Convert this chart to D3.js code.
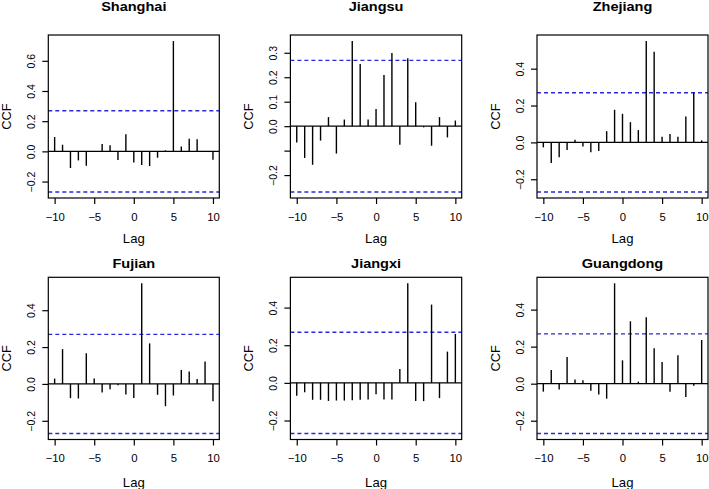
<!DOCTYPE html>
<html><head><meta charset="utf-8">
<script src="https://cdn.jsdelivr.net/npm/d3@7"></script>
<style>
body{margin:0;background:#fff}
text{font-family:"Liberation Sans",Arial,Helvetica,sans-serif;fill:#000}
</style>
</head><body><svg id="c" width="709" height="489"></svg>
<script>
// ---- data ----
const lags = [-10,-9,-8,-7,-6,-5,-4,-3,-2,-1,0,1,2,3,4,5,6,7,8,9,10];
const regions = ["Shanghai","Jiangsu","Zhejiang","Fujian","Jiangxi","Guangdong"];
const ccfShanghai  = [0.095,0.044,-0.110,-0.060,-0.095,0.003,0.049,0.040,-0.058,0.113,-0.073,-0.091,-0.097,-0.042,0.007,0.731,0.033,0.084,0.080,-0.004,-0.055];
const ccfJiangsu   = [-0.067,-0.130,-0.158,-0.059,0.037,-0.112,0.027,0.348,0.254,0.027,0.070,0.209,0.299,-0.076,0.278,0.098,-0.005,-0.080,0.037,-0.046,0.023];
const ccfZhejiang  = [-0.027,-0.112,-0.081,-0.041,0.014,-0.022,-0.054,-0.047,0.061,0.177,0.155,0.110,0.067,0.550,0.492,0.031,0.045,0.031,0.141,0.270,0.011];
const ccfFujian    = [0.029,0.189,-0.077,-0.079,0.166,0.029,-0.047,-0.029,-0.007,-0.058,-0.077,0.546,0.220,-0.059,-0.121,-0.063,0.076,0.068,0.027,0.121,-0.094];
const ccfJiangxi   = [-0.069,-0.050,-0.090,-0.090,-0.096,-0.094,-0.094,-0.092,-0.090,-0.088,-0.060,-0.088,-0.088,0.074,0.529,-0.096,-0.097,0.416,-0.081,0.166,0.260];
const ccfGuangdong = [-0.043,0.074,-0.032,0.144,0.023,0.018,-0.038,-0.059,-0.081,0.542,0.126,0.337,0.011,0.359,0.191,0.117,-0.043,0.153,-0.072,-0.011,0.236];
const ciBound = 0.269;
const xTicks = [-10,-5,0,5,10];
const yTicksShanghai = [-0.2,0,0.2,0.4,0.6];
const yTicksJiangsu = [-0.2,-0.1,0,0.1,0.2,0.3];
const yTicksOther = [-0.2,0,0.2,0.4];
const hiddenLabelsJiangsu = [-0.1];

const series = [ccfShanghai, ccfJiangsu, ccfZhejiang, ccfFujian, ccfJiangxi, ccfGuangdong];
const yTickSets = [yTicksShanghai, yTicksJiangsu, yTicksOther, yTicksOther, yTicksOther, yTicksOther];
const hiddenSets = [[], hiddenLabelsJiangsu, [], [], [], []];

// ---- layout ----
const colBox = [[48.3,219.3],[290.4,461.7],[537,708]];
const rowBox = [[35,198],[277.3,439.5]];
const titleY = [11, 267.5];
const lagY = [243, 486.5];

const svg = d3.select("#c");
svg.append("rect").attr("width",709).attr("height",489).attr("fill","#fff");

const fmtY = v => (v === 0 ? "0.0" : d3.format(".1f")(v));
const fmtX = d3.format("d");

series.forEach((vals, i) => {
  const col = i % 3, row = Math.floor(i / 3);
  const [x0, x1] = colBox[col];
  const [y0, y1] = rowBox[row];
  const lo = Math.min(-ciBound, d3.min(vals)), hi = Math.max(ciBound, d3.max(vals));
  const pad = (hi - lo) * 0.04;
  const x = d3.scaleLinear().domain([-10.8, 10.8]).range([x0, x1]);
  const y = d3.scaleLinear().domain([lo - pad, hi + pad]).range([y1, y0]);
  const g = svg.append("g");

  // zero line
  g.append("line").attr("x1", x0).attr("x2", x1).attr("y1", y(0)).attr("y2", y(0))
    .attr("stroke", "#000").attr("stroke-width", 1.2);

  // confidence bounds
  [ciBound, -ciBound].forEach(c => {
    g.append("line").attr("x1", x0).attr("x2", x1).attr("y1", y(c)).attr("y2", y(c))
      .attr("stroke", "#2a2ad8").attr("stroke-width", 1.4).attr("stroke-dasharray", "4,3");
  });

  // spikes
  g.selectAll("line.spike").data(lags).join("line").attr("class","spike")
    .attr("x1", d => x(d)).attr("x2", d => x(d))
    .attr("y1", y(0)).attr("y2", (d, k) => y(vals[k]))
    .attr("stroke", "#000").attr("stroke-width", 1.4);

  // box
  g.append("rect").attr("x", x0).attr("y", y0).attr("width", x1 - x0).attr("height", y1 - y0)
    .attr("fill", "none").attr("stroke", "#000").attr("stroke-width", 1.2);

  // x axis
  const gx = g.append("g").attr("transform", `translate(0,${y1})`)
    .call(d3.axisBottom(x).tickValues(xTicks).tickSize(6).tickFormat(fmtX));
  gx.select(".domain").remove();
  gx.selectAll(".tick line").attr("stroke", "#000").attr("stroke-width", 1.2);
  gx.selectAll(".tick text").attr("y", 0).attr("dy", 0)
    .attr("transform", `translate(0,22.5) scale(1.08,1)`)
    .style("font-size", "10.5px");

  // y axis
  const hidden = hiddenSets[i];
  const gy = g.append("g").attr("transform", `translate(${x0},0)`)
    .call(d3.axisLeft(y).tickValues(yTickSets[i]).tickSize(6)
      .tickFormat(v => hidden.includes(v) ? "" : fmtY(v)));
  gy.select(".domain").remove();
  gy.selectAll(".tick line").attr("stroke", "#000").attr("stroke-width", 1.2);
  gy.selectAll(".tick text").attr("transform", "rotate(-90)").attr("x", 0).attr("y", -13.5)
    .attr("dy", 0).attr("text-anchor", "middle").style("font-size", "10.5px");

  // title
  g.append("text").attr("transform", `translate(${(x0 + x1) / 2},${titleY[row]}) scale(1.1,1)`)
    .attr("text-anchor", "middle").style("font-size", "13.2px").style("font-weight", "bold")
    .text(regions[i]);

  // axis labels
  g.append("text").attr("transform", `translate(${(x0 + x1) / 2},${lagY[row]}) scale(1.05,1)`)
    .attr("text-anchor", "middle").style("font-size", "12.5px").text("Lag");
  g.append("text").attr("transform", `translate(${x0 - 37},${(y0 + y1) / 2}) rotate(-90)`)
    .attr("text-anchor", "middle").style("font-size", "12.8px").text("CCF");
});
</script>
</body></html>
